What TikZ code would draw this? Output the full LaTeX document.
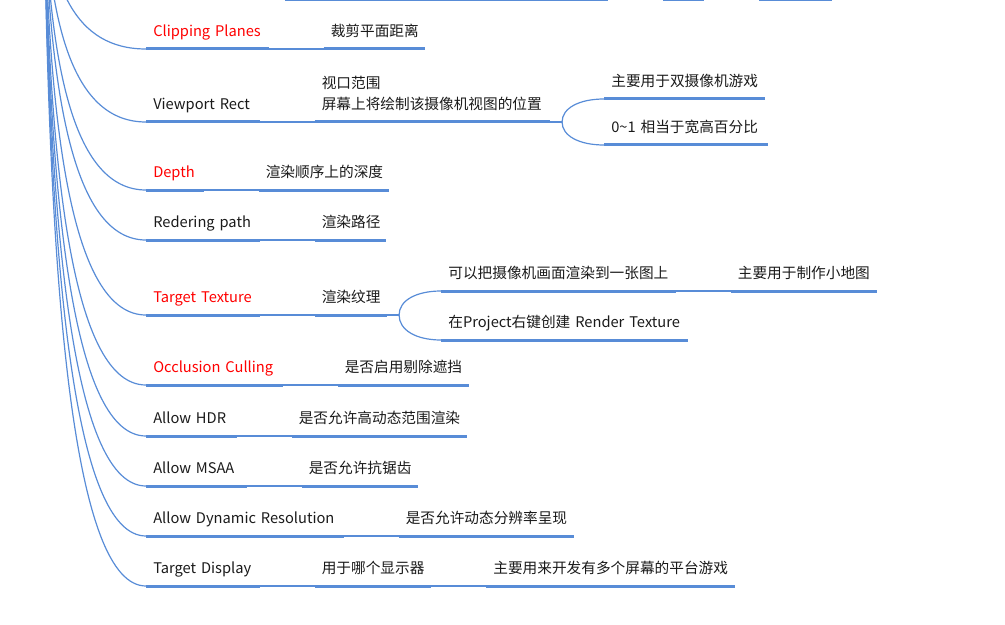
\documentclass[tikz,border=0pt]{standalone}
\usepackage{fontspec}
\setmainfont{Noto Sans CJK SC}
\usetikzlibrary{calc}
\usetikzlibrary{positioning}
\definecolor{mapblue}{RGB}{88,140,215}
\definecolor{mapred}{RGB}{255,0,0}
\definecolor{mapink}{RGB}{26,26,26}
\tikzset{topic/.style={anchor=south west, inner xsep=5.25pt, inner ysep=0pt, text width=#1, align=left, text depth=9pt, text=mapink, font=\fontsize{11}{15.75}\selectfont}}
\tikzset{hot/.style={text=mapred}}
\tikzset{uline/.style={draw=mapblue, line width=2.25pt}}
\tikzset{link/.style={draw=mapblue, line width=0.9pt}}

\begin{document}
\begin{tikzpicture}[x=0.75pt,y=-0.75pt]
\useasboundingbox (0,0) rectangle (1005,624);
\clip (0,0) rectangle (1005,624);

\coordinate (root) at (44,-110);

% branch cut off at the top
\node[topic=231pt] (far1) at (285,-0.5) {};
\node[topic=20.25pt] (far2) at ([xshift=41.25pt]far1.south east) {};
\node[topic=43.5pt] (far3) at ([xshift=41.25pt]far2.south east) {};

% first level
\node[topic=81pt,hot] (clip) at (146,49) {Clipping Planes};
\node[topic=74.25pt] (view) at (146,122) {Viewport Rect};
\node[topic=32.25pt,hot] (depth) at (146,190) {Depth};
\node[topic=74.25pt] (path) at (146,240) {Redering path};
\node[topic=74.25pt,hot] (tex) at (146,315) {Target Texture};
\node[topic=91.5pt,hot] (occl) at (146,385) {Occlusion Culling};
\node[topic=57pt] (hdr) at (146,436) {Allow HDR};
\node[topic=64.5pt] (msaa) at (146,486) {Allow MSAA};
\node[topic=137.25pt] (dyn) at (146,536) {Allow Dynamic Resolution};
\node[topic=74.25pt] (disp) at (146,586) {Target Display};

% second level
\node[topic=65.25pt] (clip1) at ([xshift=41.25pt]clip.south east) {裁剪平面距离};
\node[topic=165.75pt,text depth=24.75pt] (view1) at ([xshift=41.25pt]view.south east) {视口范围\\屏幕上将绘制该摄像机视图的位置};
\node[topic=87pt] (depth1) at ([xshift=41.25pt]depth.south east) {渲染顺序上的深度};
\node[topic=42.75pt] (path1) at ([xshift=41.25pt]path.south east) {渲染路径};
\node[topic=43.5pt] (tex1) at ([xshift=41.25pt]tex.south east) {渲染纹理};
\node[topic=87.75pt] (occl1) at ([xshift=41.25pt]occl.south east) {是否启用剔除遮挡};
\node[topic=120.75pt] (hdr1) at ([xshift=41.25pt]hdr.south east) {是否允许高动态范围渲染};
\node[topic=76.5pt] (msaa1) at ([xshift=41.25pt]msaa.south east) {是否允许抗锯齿};
\node[topic=120.75pt] (dyn1) at ([xshift=41.25pt]dyn.south east) {是否允许动态分辨率呈现};
\node[topic=76.5pt] (disp1) at ([xshift=41.25pt]disp.south east) {用于哪个显示器};

% third level
\coordinate (viewfork) at ([xshift=9pt]view1.south east);
\coordinate (texfork) at ([xshift=9pt]tex1.south east);
\node[topic=109.5pt] (view1a) at ([xshift=31.5pt,yshift=17.25pt]viewfork) {主要用于双摄像机游戏};
\node[topic=111.75pt] (view1b) at ([xshift=31.5pt,yshift=-17.25pt]viewfork) {0\textasciitilde1 相当于宽高百分比};
\node[topic=165pt] (tex1a) at ([xshift=31.5pt,yshift=18pt]texfork) {可以把摄像机画面渲染到一张图上};
\node[topic=174pt] (tex1b) at ([xshift=31.5pt,yshift=-18.75pt]texfork) {在Project右键创建 Render Texture};
\node[topic=99pt] (tex1a1) at ([xshift=41.25pt]tex1a.south east) {主要用于制作小地图};
\node[topic=175.5pt] (disp1a) at ([xshift=41.25pt]disp1.south east) {主要用来开发有多个屏幕的平台游戏};

% connectors
\foreach \n in {clip,view,depth,path,tex,occl,hdr,msaa,dyn,disp}
  \path[link] (root) .. controls ($(root)!0.6!(root |- \n.south west) + (5,0)$) and ($(\n.south west)!0.7!(root |- \n.south west)$) .. (\n.south west);

\foreach \a/\b in {far1/far2,far2/far3,clip/clip1,view/view1,depth/depth1,path/path1,tex/tex1,occl/occl1,hdr/hdr1,msaa/msaa1,dyn/dyn1,disp/disp1,tex1a/tex1a1,disp1/disp1a}
  \path[link] (\a.south east) -- (\b.south west);

\path[link] (view1.south east) -- (viewfork);
\path[link] (tex1.south east) -- (texfork);
\foreach \b in {view1a,view1b}
  \path[link] (viewfork) .. controls ($(viewfork)!0.6!(viewfork |- \b.south west)$) and ($(\b.south west)!0.6!(viewfork |- \b.south west)$) .. (\b.south west);
\foreach \b in {tex1a,tex1b}
  \path[link] (texfork) .. controls ($(texfork)!0.6!(texfork |- \b.south west)$) and ($(\b.south west)!0.6!(texfork |- \b.south west)$) .. (\b.south west);

% underlines
\foreach \n in {far1,far2,far3,clip,view,depth,path,tex,occl,hdr,msaa,dyn,disp,clip1,view1,depth1,path1,tex1,occl1,hdr1,msaa1,dyn1,disp1,view1a,view1b,tex1a,tex1b,tex1a1,disp1a}
  \path[uline] (\n.south west) -- (\n.south east);

\end{tikzpicture}
\end{document}
